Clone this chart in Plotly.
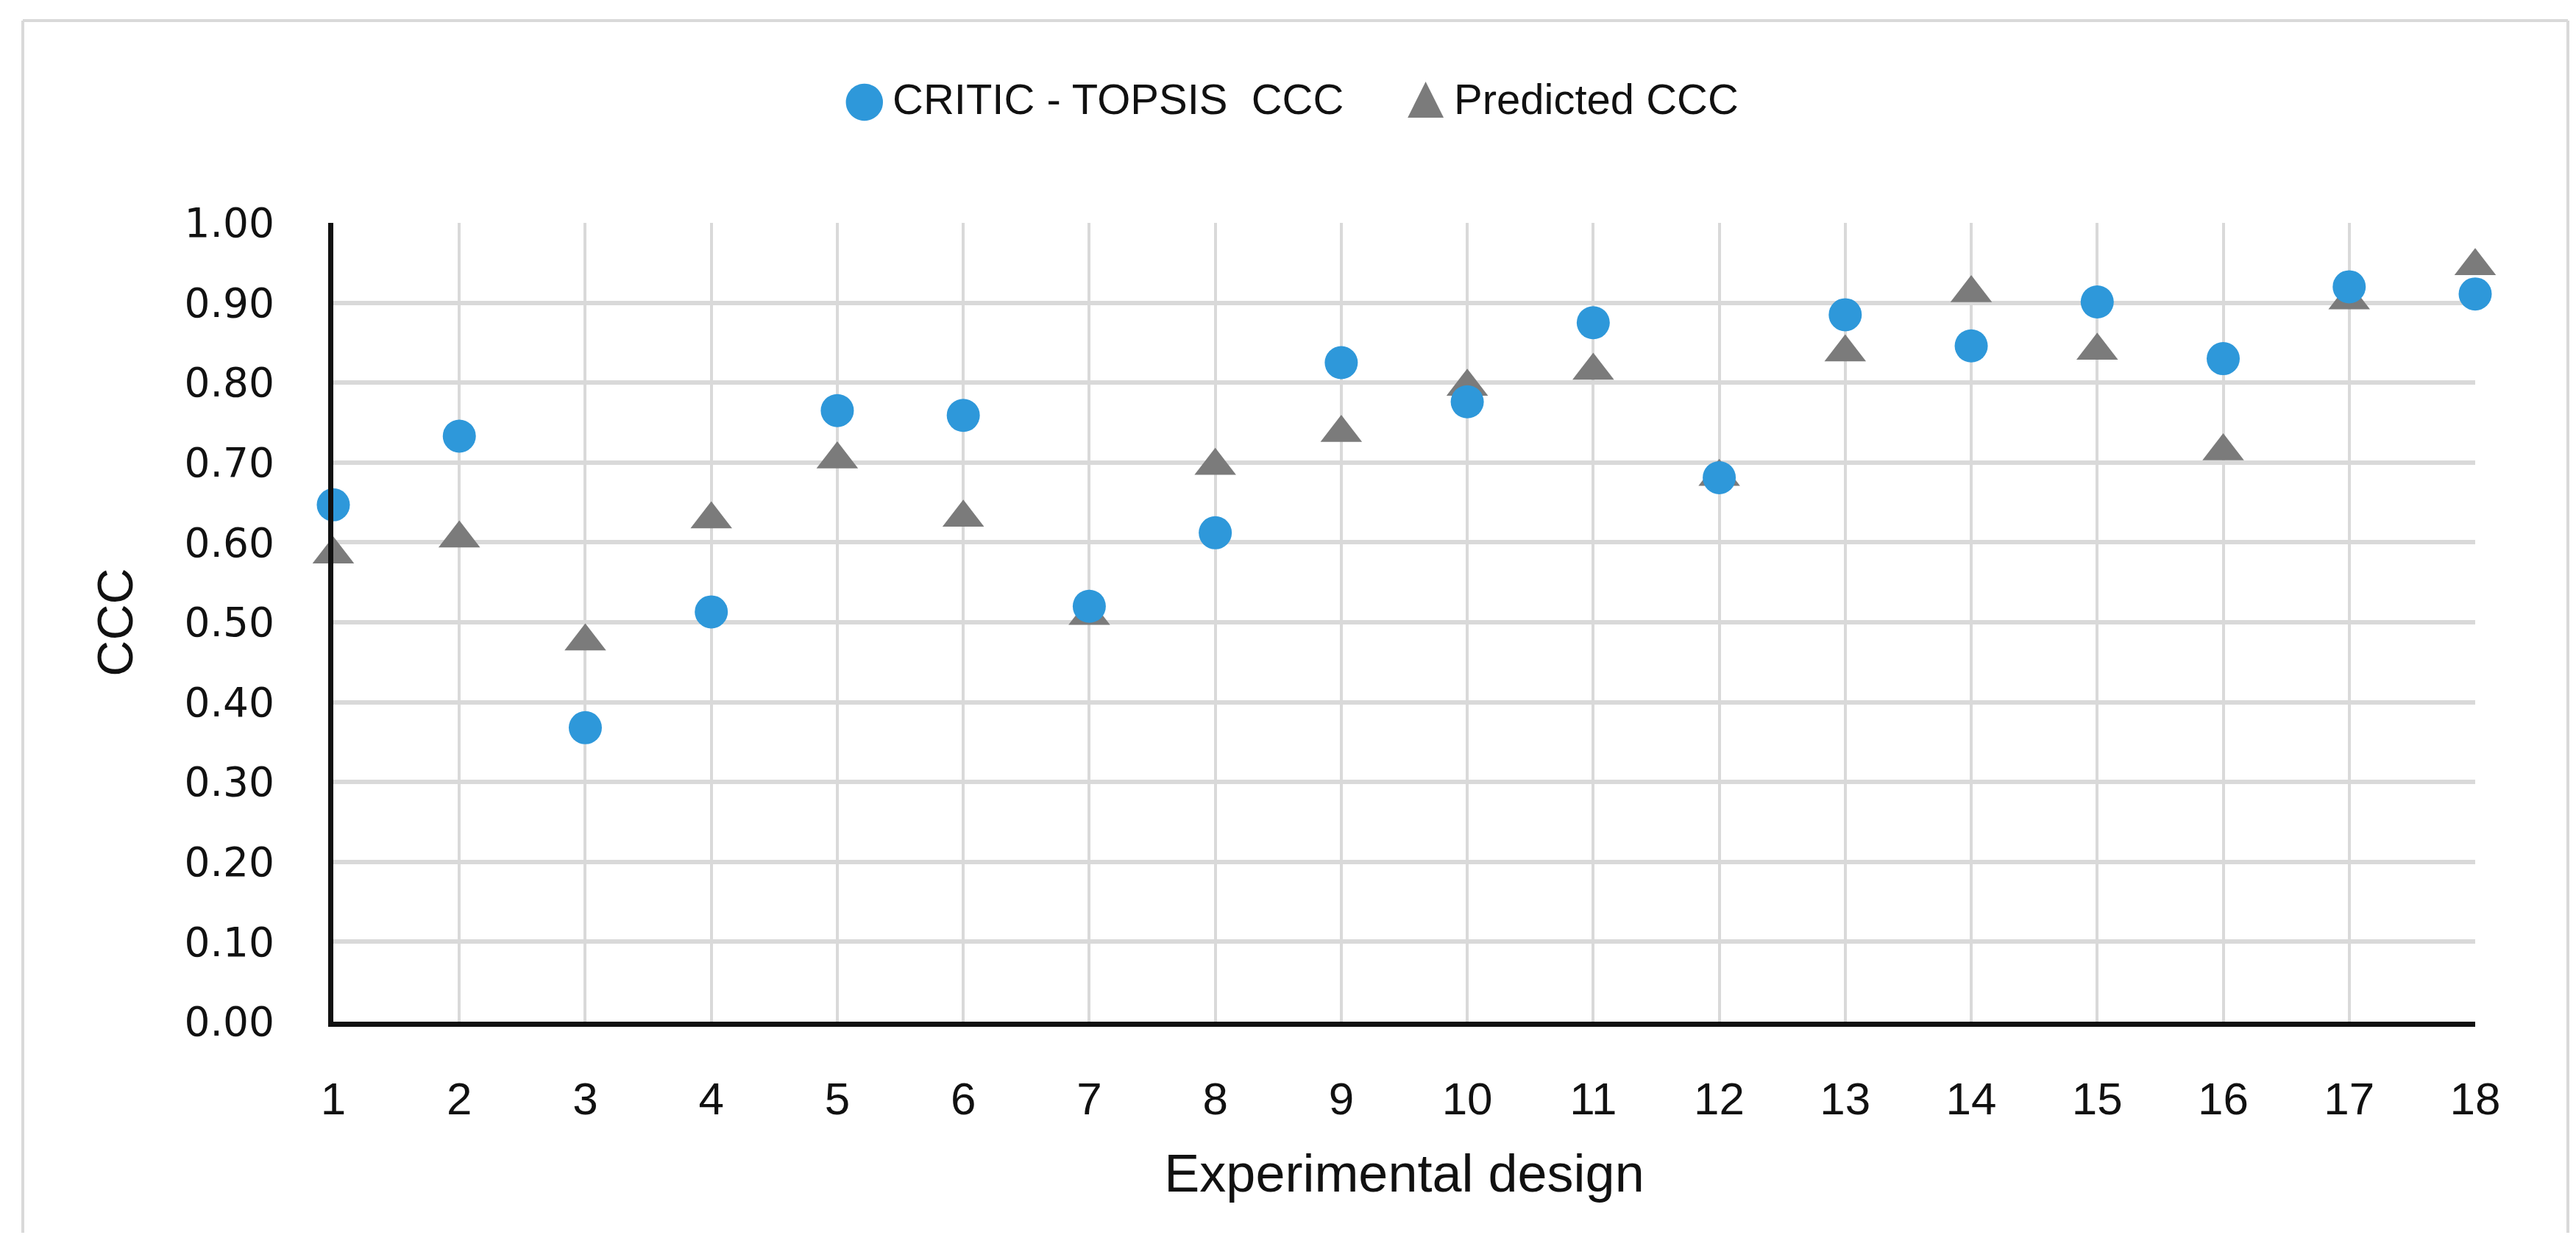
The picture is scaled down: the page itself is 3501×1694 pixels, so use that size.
import plotly.graph_objects as go

designs = list(range(1, 19))
critic_topsis_ccc = [0.647, 0.733, 0.368, 0.513, 0.765, 0.759, 0.520, 0.612, 0.825,
                     0.776, 0.875, 0.681, 0.885, 0.846, 0.901, 0.830, 0.920, 0.911]
predicted_ccc = [0.585, 0.605, 0.476, 0.629, 0.704, 0.631, 0.508, 0.696, 0.737,
                 0.795, 0.815, 0.682, 0.838, 0.912, 0.840, 0.714, 0.903, 0.946]
y_ticks = [i / 10 for i in range(11)]
y_tick_labels = [f"{v:.2f}" for v in y_ticks]
legend_names = ["CRITIC - TOPSIS\u00A0\u00A0CCC", "Predicted CCC"]

BLUE = "#2E98DA"
GRAY = "#7B7B7B"
W, H = 3501, 1694
ML, MR, MT, MB = 445, 145, 295, 313
PW, PH = W - ML - MR, H - MT - MB

fig = go.Figure()
fig.add_trace(go.Scatter(
    x=designs, y=predicted_ccc, mode="markers", name="Predicted CCC",
    marker=dict(symbol="triangle-up", size=49, color=GRAY, line=dict(width=0)),
    cliponaxis=False, showlegend=False))
fig.add_trace(go.Scatter(
    x=designs, y=critic_topsis_ccc, mode="markers", name="CRITIC - TOPSIS  CCC",
    marker=dict(symbol="circle", size=45, color=BLUE, line=dict(width=0)),
    cliponaxis=False, showlegend=False))


def px_x(p):
    return (p - ML) / PW


def px_y(p):
    return (H - MB - p) / PH


# outer light-gray frame
frame = dict(type="line", xref="paper", yref="paper", line=dict(color="#D9D9D9", width=4))
fig.add_shape(**frame, x0=px_x(23), x1=px_x(23), y0=px_y(20), y1=px_y(1668))
fig.add_shape(**frame, x0=px_x(23), x1=px_x(3482), y0=px_y(20), y1=px_y(20))
fig.add_shape(**frame, x0=px_x(3482), x1=px_x(3482), y0=px_y(20), y1=px_y(1668))

# legend (drawn as text so that the symbols keep their large size)
legend_font = dict(family="Liberation Sans, Arial, sans-serif", size=58, color="#111111")
fig.add_annotation(xref="paper", yref="paper", x=px_x(1167), y=px_y(126),
                   xanchor="center", yanchor="middle", showarrow=False,
                   text="\u25CF", font=dict(family="DejaVu Sans", size=66, color=BLUE))
fig.add_annotation(xref="paper", yref="paper", x=px_x(1203), y=px_y(127),
                   xanchor="left", yanchor="middle", showarrow=False,
                   text=legend_names[0], font=legend_font)
fig.add_annotation(xref="paper", yref="paper", x=px_x(1930), y=px_y(122),
                   xanchor="center", yanchor="middle", showarrow=False,
                   text="\u25B2", font=dict(family="DejaVu Sans", size=64, color=GRAY))
fig.add_annotation(xref="paper", yref="paper", x=px_x(1966), y=px_y(127),
                   xanchor="left", yanchor="middle", showarrow=False,
                   text=legend_names[1], font=legend_font)

fig.update_layout(
    width=W, height=H,
    margin=dict(l=ML, r=MR, t=MT, b=MB, autoexpand=False),
    paper_bgcolor="white", plot_bgcolor="white",
    showlegend=False,
    xaxis=dict(
        range=[1, 18], tickmode="array", tickvals=designs,
        ticktext=[str(d) for d in designs],
        showgrid=True, gridcolor="#D9D9D9", gridwidth=4,
        showline=True, linecolor="#111111", linewidth=7,
        zeroline=False, ticks="", ticklabelstandoff=45,
        tickfont=dict(family="Liberation Sans, Arial, sans-serif", size=62, color="#111111"),
        title=dict(text="Experimental design", standoff=45,
                   font=dict(family="Liberation Sans, Arial, sans-serif", size=72, color="#111111")),
    ),
    yaxis=dict(
        range=[0, 1], tickmode="array", tickvals=y_ticks, ticktext=y_tick_labels,
        showgrid=True, gridcolor="#D9D9D9", gridwidth=6,
        showline=True, linecolor="#111111", linewidth=7,
        zeroline=False, ticks="", ticklabelstandoff=62,
        tickfont=dict(family="DejaVu Sans, Verdana, sans-serif", size=55, color="#111111"),
        title=dict(text="CCC", standoff=50,
                   font=dict(family="Liberation Sans, Arial, sans-serif", size=68, color="#111111")),
    ),
)

fig.write_html("out.html")
